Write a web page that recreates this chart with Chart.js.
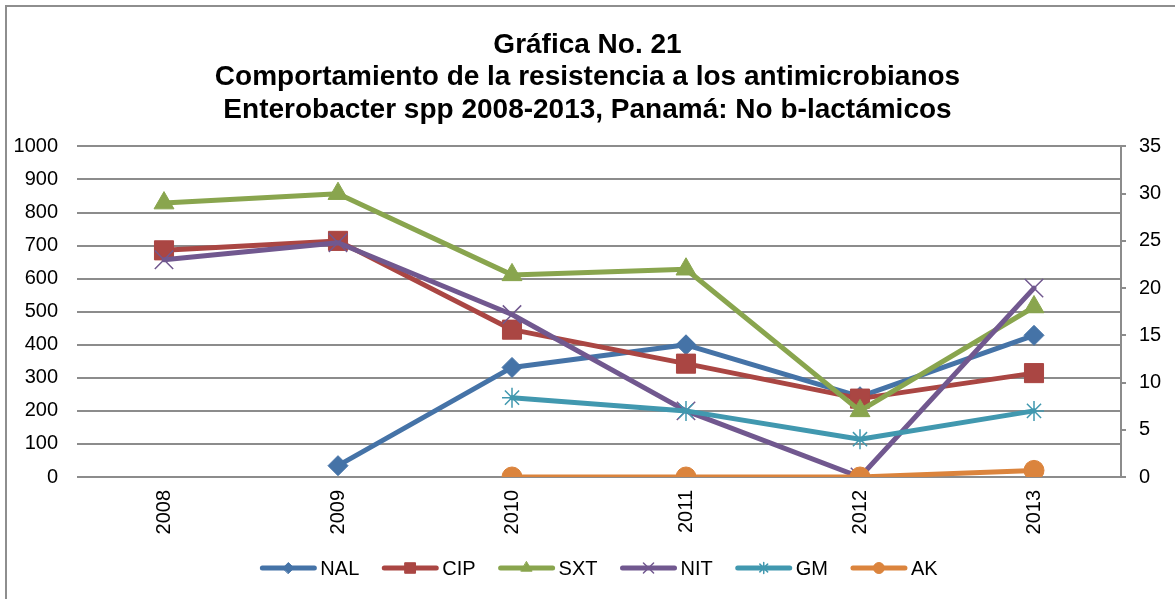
<!DOCTYPE html>
<html>
<head>
<meta charset="utf-8">
<script src="https://cdn.jsdelivr.net/npm/chart.js@4.4.1/dist/chart.umd.min.js"></script>
<style>
body { margin: 0; background: #fff; }
#frame { position: absolute; left: 5px; top: 5px; width: 1300px; height: 700px; border: 2px solid #8e8e8e; }
#wrap { position: absolute; left: 0; top: 0; width: 1175px; height: 599px; }
</style>
</head>
<body>
<div id="frame"></div>
<div id="wrap"><canvas id="chart"></canvas></div>
<script>
// years on the x axis
const years = ['2008', '2009', '2010', '2011', '2012', '2013'];

// % resistance (0-35)
const nal = [null, 1.2, 11.6, 14, 8.5, 15];
const cip = [24, 25, 15.6, 12, 8.3, 11];
const sxt = [29, 30, 21.4, 22, 7, 18];
const nit = [23, 24.8, 17.2, 7, 0, 20];
const gm  = [null, null, 8.4, 7, 4, 7];
const ak  = [null, null, 0, 0, 0, 0.7];

const leftMax = 1000, leftStep = 100;
const rightMax = 35, rightStep = 5;

const titleLines = [
    'Gráfica No. 21',
    'Comportamiento de la resistencia a los antimicrobianos',
    'Enterobacter spp 2008-2013, Panamá: No b-lactámicos'
];

const FONT = '"Liberation Sans", Arial, sans-serif';

function series(label, data, color, style, radius, bw) {
    return {
        label: label,
        data: data,
        yAxisID: 'y2',
        borderColor: color,
        backgroundColor: color,
        borderWidth: 5,
        borderJoinStyle: 'round',
        borderCapStyle: 'round',
        pointStyle: style,
        pointRadius: radius,
        pointHoverRadius: radius,
        pointBackgroundColor: color,
        pointBorderColor: color,
        pointBorderWidth: bw,
        tension: 0,
        spanGaps: false
    };
}

let datasets = [
    series('NAL', nal, '#4573A7', 'rectRot', 10, 1),
    series('CIP', cip, '#AA4643', 'rect', 13.5, 1),
    series('SXT', sxt, '#89A54E', 'triangle', 11.5, 1),
    series('NIT', nit, '#71588F', 'crossRot', 13, 1.5),
    series('GM', gm, '#4198AF', 'star', 10, 1.5),
    series('AK', ak, '#DB843D', 'circle', 10, 1)
];
// later series drawn on top, like the original
datasets.forEach((d, i) => { d.order = datasets.length - i; });

// legend drawn by hand: line with marker in the middle, then the name
const bottomLegend = {
    id: 'bottomLegend',
    afterDraw(chart) {
        const ctx = chart.ctx;
        const lineLen = 56, gapText = 4, gapItem = 23;
        const y = 568;
        ctx.save();
        ctx.font = '20px ' + FONT;
        ctx.textBaseline = 'middle';
        ctx.textAlign = 'left';
        let total = 0;
        datasets.forEach(ds => { total += lineLen + gapText + ctx.measureText(ds.label).width; });
        total += gapItem * (datasets.length - 1);
        const area = chart.chartArea;
        let x = (area.left + area.right) / 2 - total / 2;
        datasets.forEach(ds => {
            ctx.strokeStyle = ds.borderColor;
            ctx.lineWidth = 5;
            ctx.lineCap = 'round';
            ctx.beginPath();
            ctx.moveTo(x + 2, y);
            ctx.lineTo(x + lineLen - 2, y);
            ctx.stroke();
            ctx.fillStyle = ds.borderColor;
            ctx.lineWidth = ds.pointBorderWidth;
            Chart.helpers.drawPoint(ctx, {
                pointStyle: ds.pointStyle,
                radius: ds.pointRadius * 0.55,
                borderWidth: ds.pointBorderWidth,
                rotation: 0
            }, x + lineLen / 2, y);
            ctx.fillStyle = '#000';
            ctx.fillText(ds.label, x + lineLen + gapText, y + 1);
            x += lineLen + gapText + ctx.measureText(ds.label).width + gapItem;
        });
        ctx.restore();
    }
};

new Chart(document.getElementById('chart'), {
    type: 'line',
    data: {
        labels: years,
        datasets: datasets
    },
    options: {
        responsive: true,
        maintainAspectRatio: false,
        animation: false,
        layout: { padding: { left: 0, right: 0, top: 0, bottom: 0 } },
        plugins: {
            legend: { display: false },
            tooltip: { enabled: false },
            title: {
                display: true,
                text: titleLines,
                color: '#000',
                font: { family: FONT, size: 28, weight: 'bold', lineHeight: 1.16 },
                padding: { top: 29, bottom: 20 }
            }
        },
        scales: {
            x: {
                offset: true,
                grid: { display: false, drawTicks: false },
                border: { display: false },
                ticks: {
                    minRotation: 90,
                    maxRotation: 90,
                    padding: 13,
                    color: '#000',
                    font: { family: FONT, size: 20 }
                },
                afterFit: s => { s.height = 122; }
            },
            y: {
                position: 'left',
                min: 0,
                max: leftMax,
                ticks: {
                    stepSize: leftStep,
                    padding: 19,
                    color: '#000',
                    font: { family: FONT, size: 20 },
                    callback: v => String(v)
                },
                grid: { color: '#8c8c8c', lineWidth: 2, drawTicks: false },
                border: { display: false },
                afterFit: s => { s.width = 77; }
            },
            y2: {
                position: 'right',
                min: 0,
                max: rightMax,
                ticks: {
                    stepSize: rightStep,
                    padding: 13,
                    color: '#000',
                    font: { family: FONT, size: 20 },
                    callback: v => String(v)
                },
                grid: { drawOnChartArea: false, drawTicks: true, tickLength: 5, color: '#8c8c8c', lineWidth: 2 },
                border: { display: true, color: '#8c8c8c', width: 2 },
                afterFit: s => { s.width = 54; }
            }
        }
    },
    plugins: [bottomLegend]
});
</script>
</body>
</html>
